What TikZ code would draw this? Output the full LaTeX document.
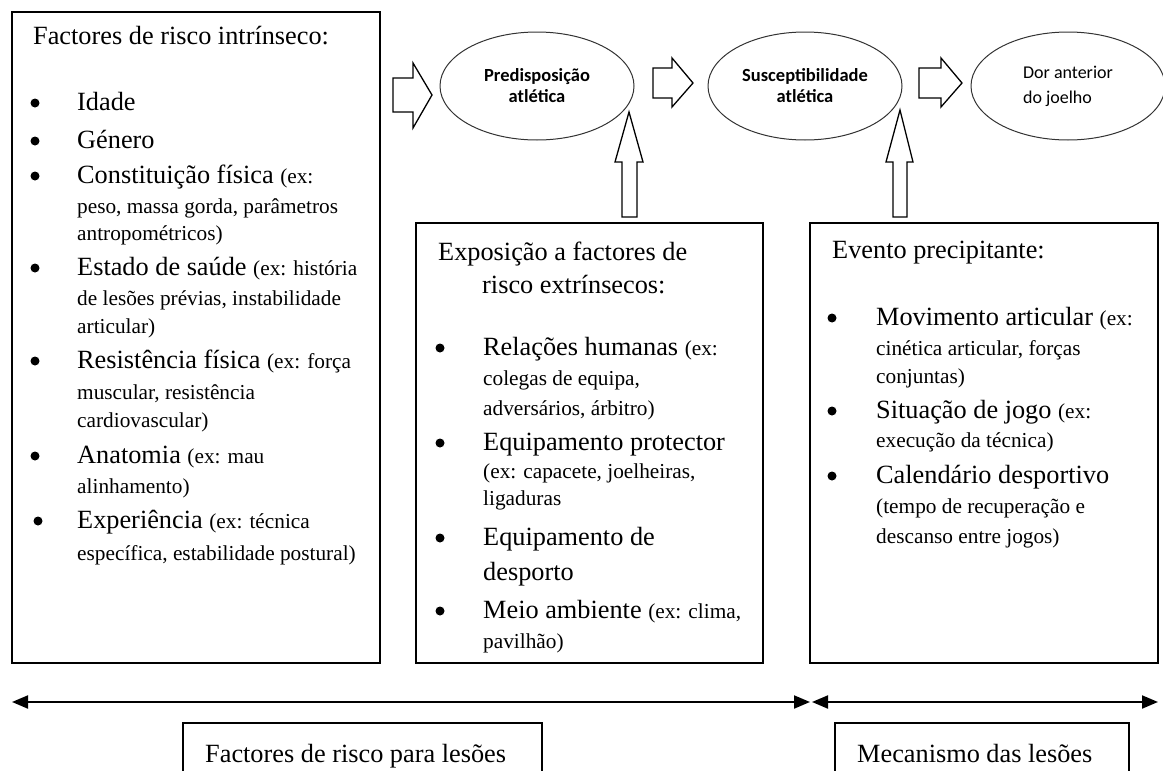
\documentclass[tikz,border=0pt]{standalone}
\usepackage{fontspec}
\setmainfont{Liberation Serif}
\newfontfamily\calibri{Carlito}
\usetikzlibrary{arrows.meta}
\usetikzlibrary{positioning}
\usetikzlibrary{shapes.geometric}

\newcommand{\exnote}[1]{{\fontsize{21.3}{26}\selectfont #1}}

\tikzset{
	box/.style={draw, line width=1.5pt},
	bigtxt/.style={anchor=base west, inner sep=0pt, font=\fontsize{26.3}{32}\selectfont},
	smalltxt/.style={anchor=base west, inner sep=0pt, font=\fontsize{21.3}{26}\selectfont},
	dot/.style={circle, fill, inner sep=0pt, minimum size=9pt},
	stage/.style={ellipse, draw=black!80, line width=1pt, minimum width=194pt, minimum height=108pt, inner sep=0pt, align=center, font=\calibri\bfseries\fontsize{18.5}{21}\selectfont},
	blockarrow/.style={draw, fill=white, line width=1.3pt, line join=miter},
	span/.style={line width=2pt, {Triangle[length=16pt,width=13pt]}-{Triangle[length=16pt,width=13pt]}}
}

\begin{document}
\begin{tikzpicture}[x=1pt, y=-1pt]
	\useasboundingbox (0,0) rectangle (1163,771);
	
	% three boxes of factors
	\node[box, minimum width=368pt, minimum height=651pt] (intrinsic) at (196,337.5) {};
	\node[box, minimum width=347pt, minimum height=440pt] (extrinsic) at (589.5,443) {};
	\node[box, minimum width=348pt, minimum height=440pt] (event) at (984,443) {};
	
	% stages
	\node[stage] (predisp) at (537,86) {Predisposição\\atlética};
	\node[stage] (suscept) at (805,86) {Susceptibilidade\\atlética};
	\node[stage, align=left, font=\calibri\fontsize{18}{25}\selectfont] (pain) at (1068,86) {Dor anterior\\do joelho};
	
	% block arrows
	\draw[blockarrow] (393,78) -- (413,78) -- (413,63) -- (432,95) -- (413,128) -- (413,112) -- (393,112) -- cycle;
	\draw[blockarrow] (653,68) -- (672,68) -- (672,58) -- (693,83) -- (672,107) -- (672,98) -- (653,98) -- cycle;
	\draw[blockarrow] (919,68) -- (941,68) -- (941,58) -- (962,83) -- (941,107) -- (941,98) -- (919,98) -- cycle;
	\draw[blockarrow] (622,217) -- (622,162) -- (615,162) -- (629,112) -- (643,162) -- (637,162) -- (637,217) -- cycle;
	\draw[blockarrow] (893,217) -- (893,162) -- (886,162) -- (900,110) -- (913,162) -- (907,162) -- (907,217) -- cycle;
	
	% intrinsic factors
	\node[bigtxt] (intrHead) at (33,45) {Factores de risco intrínseco:};
	\node[bigtxt] (age) at (77,110) {Idade};
	\node[bigtxt] (gender) at (77,148) {Género};
	\node[bigtxt] (build) at (77,183) {Constituição física \exnote{(ex:}};
	\node[smalltxt] (build2) at (77,213) {peso, massa gorda, parâmetros};
	\node[smalltxt] (build3) at (77,240) {antropométricos)};
	\node[bigtxt] (health) at (77,275) {Estado de saúde \exnote{(ex: história}};
	\node[smalltxt] (health2) at (77,305) {de lesões prévias, instabilidade};
	\node[smalltxt] (health3) at (77,333) {articular)};
	\node[bigtxt] (fitness) at (77,368) {Resistência física \exnote{(ex: força}};
	\node[smalltxt] (fitness2) at (77,399) {muscular, resistência};
	\node[smalltxt] (fitness3) at (77,427) {cardiovascular)};
	\node[bigtxt] (anatomy) at (77,463) {Anatomia \exnote{(ex: mau}};
	\node[smalltxt] (anatomy2) at (77,493) {alinhamento)};
	\node[bigtxt] (exper) at (77,528) {Experiência \exnote{(ex: técnica}};
	\node[smalltxt] (exper2) at (77,560) {específica, estabilidade postural)};
	
	% extrinsic factors
	\node[bigtxt] (extHead) at (438,260) {Exposição a factores de};
	\node[bigtxt] (extHead2) at (482,293) {risco extrínsecos:};
	\node[bigtxt] (human) at (483,355) {Relações humanas \exnote{(ex:}};
	\node[smalltxt] (human2) at (483,385) {colegas de equipa,};
	\node[smalltxt] (human3) at (483,415) {adversários, árbitro)};
	\node[bigtxt] (protect) at (483,450) {Equipamento protector};
	\node[smalltxt] (protect2) at (483,478) {(ex: capacete, joelheiras,};
	\node[smalltxt] (protect3) at (483,505) {ligaduras};
	\node[bigtxt] (sportEq) at (483,545) {Equipamento de};
	\node[bigtxt] (sportEq2) at (483,580) {desporto};
	\node[bigtxt] (environ) at (483,618) {Meio ambiente \exnote{(ex: clima,}};
	\node[smalltxt] (environ2) at (483,648) {pavilhão)};
	
	% precipitating event
	\node[bigtxt] (eventHead) at (832,258) {Evento precipitante:};
	\node[bigtxt] (joint) at (876,325) {Movimento articular \exnote{(ex:}};
	\node[smalltxt] (joint2) at (876,355) {cinética articular, forças};
	\node[smalltxt] (joint3) at (876,383) {conjuntas)};
	\node[bigtxt] (game) at (876,418) {Situação de jogo \exnote{(ex:}};
	\node[smalltxt] (game2) at (876,447) {execução da técnica)};
	\node[bigtxt] (calendar) at (876,483) {Calendário desportivo};
	\node[smalltxt] (calendar2) at (876,513) {(tempo de recuperação e};
	\node[smalltxt] (calendar3) at (876,543) {descanso entre jogos)};
	
	% bullets
	\foreach \bx/\by [count=\i] in {35/110, 35/148, 35/183, 35/275, 35/368, 35/463, 38/528,
		440/355, 440/450, 440/545, 440/618, 832/325, 832/418, 832/483}
		\node[dot] (dot\i) at (\bx,\by-7) {};
	
	% spans
	\coordinate (riskL) at (12,702);
	\coordinate (riskR) at (810,702);
	\coordinate (mechL) at (812,702);
	\coordinate (mechR) at (1158,702);
	\draw[span] (riskL) -- (riskR);
	\draw[span] (mechL) -- (mechR);
	
	% span labels
	\node[bigtxt] (riskLbl) at (205,762) {Factores de risco para lesões};
	\node[bigtxt] (mechLbl) at (857,762) {Mecanismo das lesões};
	\draw[line width=1.5pt] (183,771) |- (542,723) -- (542,771);
	\draw[line width=1.5pt] (835,771) |- (1129,723) -- (1129,771);
\end{tikzpicture}
\end{document}
